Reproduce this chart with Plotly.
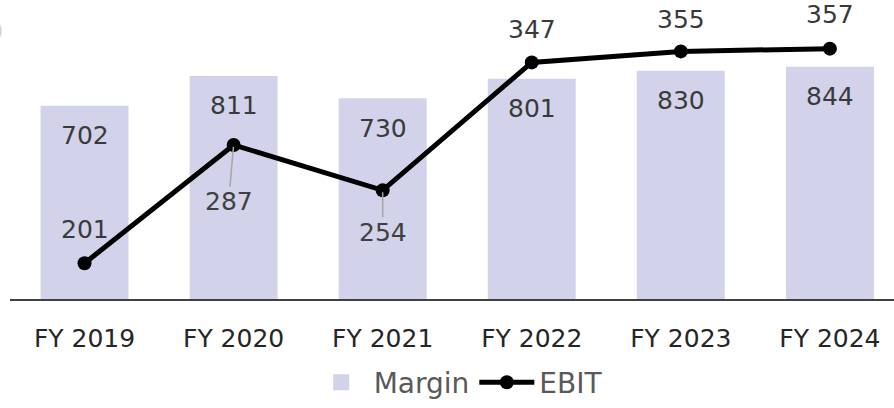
import plotly.graph_objects as go

categories = ["FY 2019", "FY 2020", "FY 2021", "FY 2022", "FY 2023", "FY 2024"]
margin_vals = [702, 811, 730, 801, 830, 844]
ebit_vals = [201, 287, 254, 347, 355, 357]

# label placement for EBIT labels (pixel offsets: dx, dy, leader line?)
ebit_label_offsets = [(0, -34, False), (-5, 57, True), (0, 42, True), (0, -33, False), (0, -32, False), (0, -34, False)]

FONT = "DejaVu Sans"
BAR_COLOR = "#D2D3EA"

fig = go.Figure()
fig.add_trace(go.Bar(
    x=categories, y=margin_vals, name="Margin", showlegend=False, legendgroup="m",
    marker=dict(color=BAR_COLOR, line=dict(width=0)),
    width=0.59, yaxis="y",
))
# legend entry for the bars with a larger square swatch
fig.add_trace(go.Scatter(
    x=[categories[0]], y=[None], name="Margin", legendgroup="m", yaxis="y",
    mode="markers", marker=dict(symbol="square", size=26, color=BAR_COLOR),
    hoverinfo="skip",
))
fig.add_trace(go.Scatter(
    x=categories, y=ebit_vals, name="EBIT", yaxis="y2",
    mode="lines+markers",
    line=dict(color="#000000", width=5),
    marker=dict(color="#000000", size=14),
))

annotations = []
for c, v in zip(categories, margin_vals):
    annotations.append(dict(
        x=c, y=v, xref="x", yref="y", text=str(v), showarrow=False,
        yanchor="middle", yshift=-30,
        font=dict(family=FONT, size=25, color="#3a3a3a"),
    ))
for c, v, (dx, dy, leader) in zip(categories, ebit_vals, ebit_label_offsets):
    if leader:
        annotations.append(dict(
            x=c, y=v, xref="x", yref="y2", text=str(v), showarrow=True,
            ax=dx, ay=dy, arrowhead=0, arrowwidth=1.5, arrowcolor="#A6A6A6",
            standoff=2, borderpad=0,
            font=dict(family=FONT, size=25, color="#404040"),
        ))
    else:
        annotations.append(dict(
            x=c, y=v, xref="x", yref="y2", text=str(v), showarrow=False,
            xshift=dx, yshift=-dy, yanchor="middle",
            font=dict(family=FONT, size=25, color="#3a3a3a"),
        ))
# faint cropped element at top-left
annotations.append(dict(
    x=-0.0255, y=0.924, xref="paper", yref="paper", text="0", showarrow=False,
    yanchor="middle",
    font=dict(family=FONT, size=22, color="#D4D4D4"),
))

fig.update_layout(
    width=894, height=408,
    margin=dict(l=10, r=0, t=10, b=107),
    paper_bgcolor="white", plot_bgcolor="white",
    font=dict(family=FONT, color="#262626"),
    bargap=0.41,
    xaxis=dict(
        range=[-0.5, 5.43], showline=True, linecolor="#404040", linewidth=2,
        showgrid=False, zeroline=False, ticks="", ticklabelstandoff=16,
        tickfont=dict(family=FONT, size=25, color="#262626"),
    ),
    yaxis=dict(range=[0, 1050.5], visible=False, showgrid=False, zeroline=False),
    yaxis2=dict(range=[175, 385.1], overlaying="y", side="right", visible=False,
                showgrid=False, zeroline=False),
    showlegend=True,
    legend=dict(
        orientation="h", x=0.507, xanchor="center", y=-0.289, yanchor="middle",
        font=dict(family=FONT, size=28, color="#595959"),
        itemwidth=55, traceorder="normal", bgcolor="rgba(0,0,0,0)",
        itemsizing="trace",
    ),
    annotations=annotations,
)

fig.write_html(
    "out.html",
    config={"displayModeBar": False},
    post_script="document.body.style.margin='0';document.body.style.overflow='hidden';",
)
